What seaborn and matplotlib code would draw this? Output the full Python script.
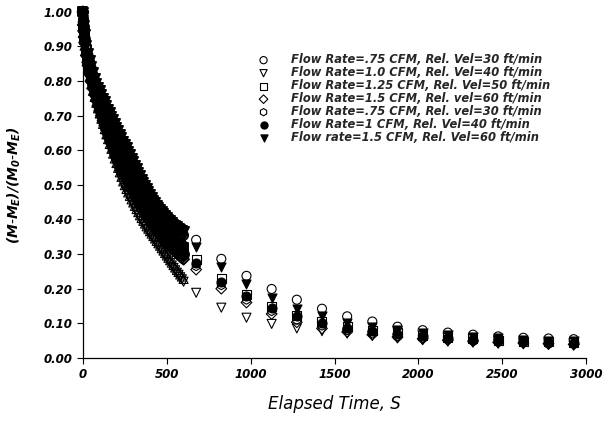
import matplotlib
matplotlib.use("Agg")
import matplotlib.pyplot as plt
import seaborn as sns
import pandas as pd

# elapsed time (s): dense readings up to 600 s, then one every 150 s
t_dense = [0, 2, 4, 7] + list(range(10, 601, 10))
t_sparse = [675, 825, 975, 1125, 1275, 1425, 1575, 1725, 1875, 2025, 2175,
            2325, 2475, 2625, 2775, 2925]

# moisture ratio (M-Me)/(M0-Me)
fr075_v30 = [1.000, 0.970, 0.957, 0.942, 0.929, 0.899, 0.876, 0.856, 0.837, 0.818,
             0.801, 0.787, 0.776, 0.765, 0.753, 0.742, 0.731, 0.720, 0.710, 0.699,
             0.689, 0.678, 0.667, 0.657, 0.647, 0.637, 0.627, 0.617, 0.607, 0.597,
             0.587, 0.577, 0.567, 0.557, 0.547, 0.537, 0.527, 0.517, 0.507, 0.497,
             0.488, 0.479, 0.470, 0.462, 0.454, 0.446, 0.439, 0.432, 0.425, 0.419,
             0.413, 0.407, 0.401, 0.395, 0.390, 0.385, 0.380, 0.376, 0.372, 0.368,
             0.364, 0.360, 0.357, 0.354,
             0.341, 0.286, 0.237, 0.199, 0.168, 0.142, 0.120, 0.105, 0.090, 0.080,
             0.073, 0.067, 0.062, 0.058, 0.056, 0.054]
fr10_v40 = [1.000, 0.955, 0.935, 0.912, 0.895, 0.858, 0.829, 0.804, 0.783, 0.764,
            0.746, 0.729, 0.713, 0.698, 0.683, 0.668, 0.653, 0.638, 0.624, 0.610,
            0.596, 0.582, 0.568, 0.555, 0.541, 0.528, 0.515, 0.502, 0.491, 0.480,
            0.470, 0.460, 0.450, 0.441, 0.431, 0.422, 0.413, 0.404, 0.396, 0.388,
            0.380, 0.372, 0.365, 0.358, 0.351, 0.344, 0.337, 0.330, 0.323, 0.316,
            0.309, 0.302, 0.295, 0.288, 0.281, 0.274, 0.267, 0.260, 0.253, 0.246,
            0.240, 0.233, 0.227, 0.220,
            0.188, 0.145, 0.116, 0.098, 0.085, 0.077, 0.070, 0.063, 0.056, 0.051,
            0.047, 0.044, 0.041, 0.039, 0.037, 0.035]
fr125_v50 = [1.000, 0.970, 0.955, 0.938, 0.924, 0.890, 0.863, 0.840, 0.819, 0.801,
             0.786, 0.772, 0.758, 0.745, 0.732, 0.719, 0.706, 0.694, 0.681, 0.669,
             0.656, 0.644, 0.631, 0.619, 0.607, 0.595, 0.584, 0.572, 0.561, 0.550,
             0.539, 0.528, 0.518, 0.508, 0.498, 0.488, 0.479, 0.470, 0.462, 0.454,
             0.446, 0.439, 0.432, 0.425, 0.418, 0.412, 0.406, 0.400, 0.394, 0.388,
             0.383, 0.377, 0.372, 0.366, 0.361, 0.356, 0.351, 0.346, 0.341, 0.336,
             0.332, 0.327, 0.323, 0.318,
             0.285, 0.228, 0.182, 0.148, 0.122, 0.105, 0.090, 0.080, 0.072, 0.065,
             0.060, 0.055, 0.051, 0.048, 0.046, 0.044]
fr15_v60 = [1.000, 0.962, 0.945, 0.927, 0.911, 0.874, 0.845, 0.820, 0.798, 0.778,
            0.760, 0.744, 0.729, 0.714, 0.700, 0.686, 0.672, 0.659, 0.646, 0.633,
            0.620, 0.608, 0.596, 0.584, 0.572, 0.560, 0.549, 0.538, 0.527, 0.516,
            0.505, 0.495, 0.485, 0.475, 0.465, 0.456, 0.447, 0.438, 0.430, 0.422,
            0.414, 0.406, 0.399, 0.392, 0.385, 0.378, 0.372, 0.366, 0.360, 0.354,
            0.348, 0.343, 0.337, 0.332, 0.327, 0.322, 0.317, 0.312, 0.307, 0.302,
            0.298, 0.293, 0.289, 0.285,
            0.255, 0.200, 0.160, 0.127, 0.103, 0.085, 0.075, 0.067, 0.060, 0.055,
            0.051, 0.048, 0.045, 0.043, 0.041, 0.039]
fr025_v10 = [1.000, 0.960, 0.941, 0.919, 0.902, 0.866, 0.837, 0.812, 0.791, 0.772,
             0.754, 0.737, 0.721, 0.706, 0.691, 0.676, 0.661, 0.646, 0.632, 0.618,
             0.604, 0.590, 0.576, 0.563, 0.549, 0.536, 0.523, 0.510, 0.499, 0.488,
             0.478, 0.468, 0.458, 0.449, 0.439, 0.430, 0.421, 0.412, 0.404, 0.396,
             0.388, 0.380, 0.373, 0.366, 0.359, 0.352, 0.345, 0.338, 0.331, 0.324,
             0.317, 0.310, 0.303, 0.296, 0.289, 0.282, 0.275, 0.268, 0.261, 0.254,
             0.248, 0.241, 0.235, 0.228]
fr075_v30b = [1.000, 0.966, 0.950, 0.932, 0.917, 0.881, 0.852, 0.828, 0.806, 0.787,
              0.770, 0.755, 0.741, 0.727, 0.713, 0.700, 0.687, 0.674, 0.661, 0.648,
              0.635, 0.623, 0.611, 0.599, 0.587, 0.575, 0.563, 0.551, 0.540, 0.529,
              0.518, 0.507, 0.497, 0.487, 0.477, 0.467, 0.458, 0.449, 0.441, 0.433,
              0.425, 0.418, 0.410, 0.403, 0.396, 0.390, 0.383, 0.377, 0.371, 0.365,
              0.359, 0.354, 0.348, 0.343, 0.338, 0.333, 0.328, 0.323, 0.318, 0.313,
              0.308, 0.304, 0.299, 0.295,
              0.265, 0.210, 0.168, 0.135, 0.110, 0.093, 0.080, 0.070, 0.062, 0.057,
              0.053, 0.050, 0.047, 0.044, 0.042, 0.040]
fr1_v40 = [1.000, 0.968, 0.952, 0.935, 0.920, 0.885, 0.857, 0.833, 0.812, 0.793,
           0.777, 0.762, 0.748, 0.734, 0.720, 0.707, 0.694, 0.681, 0.668, 0.655,
           0.642, 0.630, 0.617, 0.605, 0.593, 0.581, 0.569, 0.557, 0.546, 0.535,
           0.524, 0.513, 0.503, 0.493, 0.483, 0.473, 0.464, 0.455, 0.447, 0.439,
           0.431, 0.424, 0.416, 0.409, 0.402, 0.396, 0.389, 0.383, 0.377, 0.371,
           0.365, 0.360, 0.354, 0.349, 0.344, 0.339, 0.334, 0.329, 0.324, 0.319,
           0.314, 0.310, 0.305, 0.301,
           0.275, 0.220, 0.178, 0.145, 0.120, 0.100, 0.087, 0.077, 0.068, 0.062,
           0.057, 0.053, 0.049, 0.046, 0.044, 0.042]
fr15_v60b = [1.000, 0.975, 0.962, 0.948, 0.935, 0.905, 0.882, 0.862, 0.843, 0.825,
             0.808, 0.795, 0.784, 0.773, 0.762, 0.751, 0.741, 0.730, 0.720, 0.710,
             0.700, 0.689, 0.678, 0.668, 0.658, 0.648, 0.638, 0.628, 0.618, 0.608,
             0.598, 0.588, 0.578, 0.568, 0.558, 0.548, 0.538, 0.528, 0.518, 0.508,
             0.499, 0.490, 0.481, 0.473, 0.465, 0.457, 0.450, 0.443, 0.436, 0.430,
             0.424, 0.418, 0.412, 0.407, 0.402, 0.397, 0.392, 0.388, 0.384, 0.380,
             0.376, 0.373, 0.370, 0.367,
             0.320, 0.263, 0.214, 0.173, 0.140, 0.120, 0.100, 0.090, 0.080, 0.072,
             0.066, 0.060, 0.056, 0.053, 0.050, 0.048]

series = [
    ("Flow Rate=.75 CFM, Rel. Vel=30 ft/min", fr075_v30, "o", "none"),
    ("Flow Rate=1.0 CFM, Rel. Vel=40 ft/min", fr10_v40, "v", "none"),
    ("Flow Rate=1.25 CFM, Rel. Vel=50 ft/min", fr125_v50, "s", "none"),
    ("Flow Rate=1.5 CFM, Rel. vel=60 ft/min", fr15_v60, "D", "none"),
    ("Flow Rate=.25 CFM, Rel. vel=10 ft/min", fr025_v10, "^", "none"),
    ("Flow Rate=.75 CFM, Rel. vel=30 ft/min", fr075_v30b, "h", "none"),
    ("Flow Rate=1 CFM, Rel. Vel=40 ft/min", fr1_v40, "o", "black"),
    ("Flow rate=1.5 CFM, Rel. Vel=60 ft/min", fr15_v60b, "v", "black"),
]

sns.set_style("ticks")
plt.rcParams["font.family"] = ["DejaVu Sans"]
plt.rcParams["font.weight"] = "bold"
plt.rcParams["font.style"] = "italic"
plt.rcParams["mathtext.fontset"] = "custom"
plt.rcParams["mathtext.rm"] = "DejaVu Sans:bold:italic"
plt.rcParams["mathtext.it"] = "DejaVu Sans:bold:italic"
plt.rcParams["mathtext.bf"] = "DejaVu Sans:bold:italic"

fig = plt.figure(figsize=(6.05, 4.21), dpi=100)
ax = fig.add_axes([0.137, 0.150, 0.832, 0.822])

n_dense = len(t_dense)
t_all = t_dense + t_sparse
for label, vals, marker, face in series:
    df = pd.DataFrame({"t": t_all[:len(vals)], "m": vals})
    size = 30 if marker == "D" else 42
    # the closely spaced readings overlap into a dark band,
    # the open triangles stay lighter (checkered look)
    lw_dense = 0.8 if marker in ("v", "^") and face == "none" else 1.4
    sns.scatterplot(data=df.iloc[:n_dense], x="t", y="m", marker=marker,
                    color="black", facecolor=face, edgecolor="black",
                    linewidth=lw_dense, s=size, ax=ax, clip_on=False, zorder=3)
    sns.scatterplot(data=df.iloc[n_dense:], x="t", y="m", marker=marker,
                    color="black", facecolor=face, edgecolor="black",
                    linewidth=0.8, s=size, ax=ax, label=label, clip_on=False,
                    zorder=3)

ax.set_xlim(0, 3000)
ax.set_ylim(0, 1.0)
ax.set_xticks(range(0, 3001, 500))
ax.set_yticks([i / 10 for i in range(11)])
ax.set_yticklabels([f"{i / 10:.2f}" for i in range(11)])
ax.tick_params(labelsize=8.5, length=4, width=0.8, color="black", labelcolor="black")
for side in ["left", "bottom"]:
    ax.spines[side].set_color("black")
    ax.spines[side].set_linewidth(0.9)
sns.despine(ax=ax)

ax.set_xlabel("Elapsed Time, S", fontsize=12, labelpad=10, color="black")
ax.set_ylabel(r"$(M$-$M_E)/(M_0$-$M_E)$", fontsize=10, color="black")
ax.yaxis.set_label_coords(-0.118, 0.5)

ax.legend(loc="upper left", bbox_to_anchor=(0.336, 0.897), frameon=False,
          prop={"family": "DejaVu Sans", "weight": "bold", "style": "italic", "size": 8.3},
          markerscale=0.8, labelspacing=0.0, handletextpad=1.9, borderpad=0,
          handlelength=1.0)

fig.savefig("out.png", dpi=100)
